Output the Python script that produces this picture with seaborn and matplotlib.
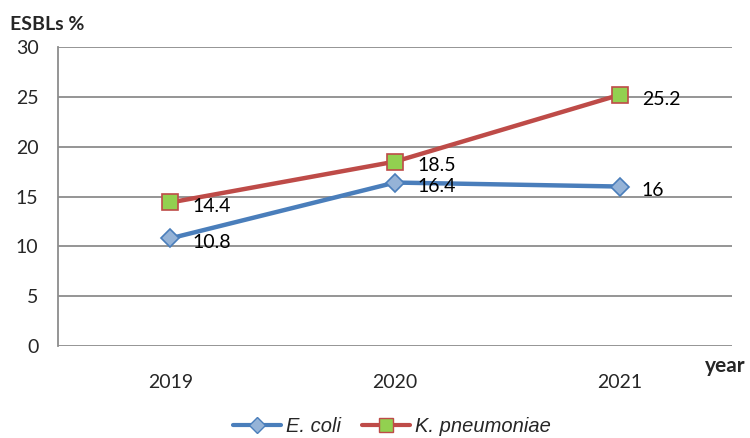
import matplotlib
matplotlib.use("Agg")
import matplotlib.pyplot as plt
import seaborn as sns
import pandas as pd
from matplotlib.lines import Line2D

years = ["2019", "2020", "2021"]
ecoli = [10.8, 16.4, 16.0]
kpneu = [14.4, 18.5, 25.2]
ecoli_labels = ["10.8", "16.4", "16"]
kpneu_labels = ["14.4", "18.5", "25.2"]
series_names = ["E. coli", "K. pneumoniae"]
yticks = [0, 5, 10, 15, 20, 25, 30]

sns.set_style("white")
plt.rcParams['font.family'] = ['Lato', 'DejaVu Sans']

df = pd.DataFrame({
    "year": years * 2,
    "value": ecoli + kpneu,
    "series": [series_names[0]] * 3 + [series_names[1]] * 3,
})

fig = plt.figure(figsize=(7.5, 4.38), dpi=100)
ax = fig.add_axes([58/750, 1 - 346/438, (732-58)/750, (346-47)/438])

blue = "#4A7EBB"
red = "#BE4B48"
styles = {
    series_names[0]: dict(color=blue, marker="D", mfc="#95B3D7", mec=blue, ms=9),
    series_names[1]: dict(color=red, marker="s", mfc="#92D050", mec=red, ms=11),
}

for name in series_names:
    sub = df[df.series == name]
    st = styles[name]
    sns.lineplot(data=sub, x="year", y="value", ax=ax, color=st["color"], lw=3.2,
                 marker=st["marker"], markerfacecolor=st["mfc"], markeredgecolor=st["mec"],
                 markersize=st["ms"], markeredgewidth=1.2, legend=False, zorder=3)

for vals, labs in [(ecoli, ecoli_labels), (kpneu, kpneu_labels)]:
    for i, (v, l) in enumerate(zip(vals, labs)):
        ax.annotate(l, (i, v), xytext=(16, -3), textcoords="offset points",
                    ha="left", va="center", fontsize=14, color="black", zorder=4)

ax.set_xlim(-0.5, 2.5)
ax.set_ylim(0, 30)
ax.set_yticks(yticks)
ax.set_yticklabels([str(t) for t in yticks], fontsize=14)
ax.tick_params(axis="x", labelsize=14, length=0, pad=20)
ax.tick_params(axis="y", length=0, pad=14)
ax.yaxis.grid(True, color="#8C8C8C", lw=1.3)
ax.set_axisbelow(True)
for s in ["top", "right", "bottom"]:
    ax.spines[s].set_visible(False)
ax.spines["left"].set_color("#8C8C8C")
ax.spines["left"].set_linewidth(1.3)
ax.set_xlabel("")
ax.set_ylabel("")

fig.text(10/750, 1 - 25/438, "ESBLs %", fontsize=14, fontweight="bold", va="center", ha="left")
fig.text(746/750, 1 - 366/438, "year", fontsize=15, fontweight="bold", va="center", ha="right")

handles = [
    Line2D([], [], color=blue, lw=3, marker="D", mfc="#95B3D7", mec=blue, ms=8),
    Line2D([], [], color=red, lw=3, marker="s", mfc="#92D050", mec=red, ms=10),
]
leg = fig.legend(handles, series_names, loc="center", bbox_to_anchor=(392/750, 1 - 427/438),
                 ncol=2, frameon=False, handlelength=2.4, columnspacing=1.0, handletextpad=0.25,
                 prop={"family": "Liberation Sans", "style": "italic", "size": 14.5})

fig.savefig("out.png", dpi=100)
